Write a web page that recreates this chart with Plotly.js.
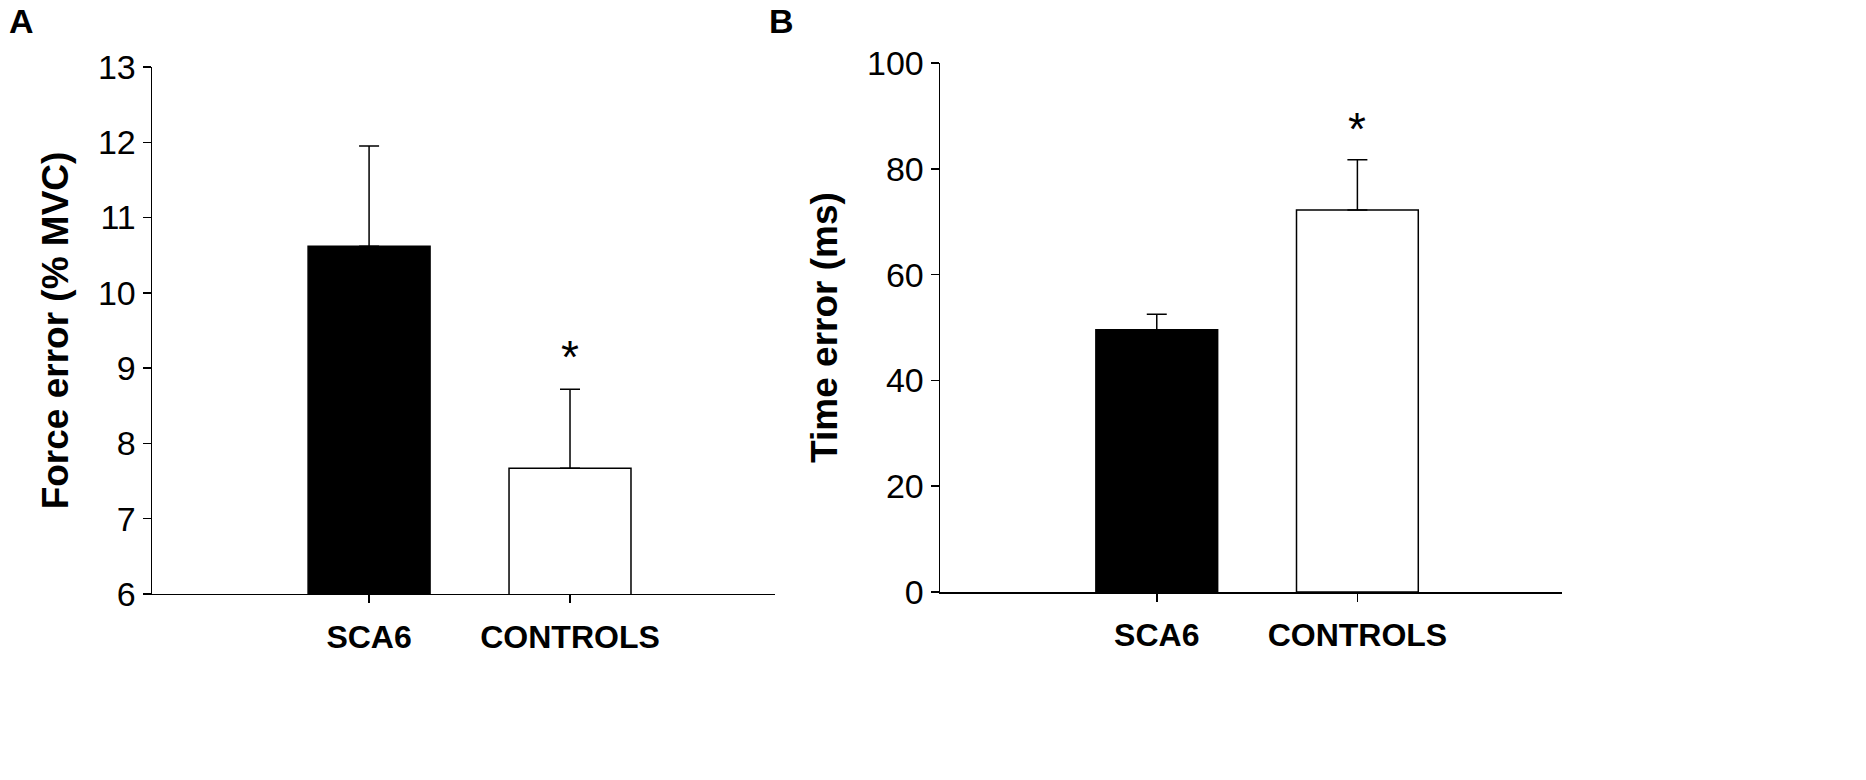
<!DOCTYPE html>
<html>
<head>
<meta charset="utf-8">
<script src="https://cdn.plot.ly/plotly-3.0.1.min.js"></script>
<style>body{margin:0;background:#fff}</style>
</head>
<body>
<div id="plot" style="width:1866px;height:780px"></div>
<script>
var groups = ['SCA6', 'CONTROLS'];
var forceMean = [10.62, 7.67];
var forceTop = [11.95, 8.72];
var timeMean = [49.6, 72.2];
var timeTop = [52.5, 81.7];
var barColors = ['#000000', '#ffffff'];

var font = 'Liberation Sans, Arial, sans-serif';

function errUp(mean, top) {
    var out = [];
    for (var i = 0; i < mean.length; i++) out.push(top[i] - mean[i]);
    return out;
}

function barTrace(y, top, xa, ya) {
    return {
        x: groups,
        y: y,
        type: 'bar',
        width: 0.607,
        xaxis: xa,
        yaxis: ya,
        marker: {color: barColors, line: {color: '#000', width: 1.5}},
        error_y: {type: 'data', symmetric: false, array: errUp(y, top), arrayminus: [0, 0],
                  color: '#000', thickness: 1.5, width: 10},
        hoverinfo: 'none',
        showlegend: false
    };
}

var plotdata = [
    barTrace(forceMean, forceTop, 'x', 'y'),
    barTrace(timeMean, timeTop, 'x2', 'y2')
];

function xAxis(dom, anchor) {
    return {
        domain: dom, anchor: anchor, range: [-1.08, 2.02],
        showline: true, linecolor: '#000', linewidth: 1.5,
        ticks: 'outside', ticklen: 8, tickwidth: 1.5, tickcolor: '#000',
        ticklabelstandoff: 6,
        showgrid: false, zeroline: false, fixedrange: true,
        tickfont: {family: font, size: 32, color: '#000', weight: 'bold'}
    };
}

function yAxis(dom, anchor, range, dtick, title) {
    return {
        domain: dom, anchor: anchor, range: range, dtick: dtick,
        showline: true, linecolor: '#000', linewidth: 1.5,
        ticks: 'outside', ticklen: 8, tickwidth: 1.5, tickcolor: '#000',
        showgrid: false, zeroline: false, fixedrange: true,
        tickfont: {family: font, size: 34, color: '#000'},
        title: {text: title, standoff: 18, font: {family: font, size: 37, color: '#000', weight: 'bold'}}
    };
}

var layout = {
    width: 1866, height: 780,
    margin: {l: 0, r: 0, t: 0, b: 0},
    paper_bgcolor: '#fff', plot_bgcolor: '#fff',
    xaxis: xAxis([0.0815, 0.4153], 'y'),
    yaxis: yAxis([0.2385, 0.9141], 'x', [6, 13], 1, 'Force error (% MVC)'),
    xaxis2: xAxis([0.5038, 0.8371], 'y2'),
    yaxis2: yAxis([0.241, 0.9192], 'x2', [0, 100], 20, 'Time error (ms)'),
    annotations: [
        {text: 'A', xref: 'paper', yref: 'paper', x: 0.004, y: 1.0, xanchor: 'left', yanchor: 'top',
         showarrow: false, font: {family: font, size: 34, color: '#000', weight: 'bold'}},
        {text: 'B', xref: 'paper', yref: 'paper', x: 0.411, y: 1.0, xanchor: 'left', yanchor: 'top',
         showarrow: false, font: {family: font, size: 34, color: '#000', weight: 'bold'}},
        {text: '*', xref: 'x', yref: 'y', x: 'CONTROLS', y: 9.15, showarrow: false,
         font: {family: font, size: 46, color: '#000'}},
        {text: '*', xref: 'x2', yref: 'y2', x: 'CONTROLS', y: 87.5, showarrow: false,
         font: {family: font, size: 46, color: '#000'}}
    ]
};

Plotly.newPlot('plot', plotdata, layout, {displayModeBar: false, staticPlot: true});
</script>
</body>
</html>
